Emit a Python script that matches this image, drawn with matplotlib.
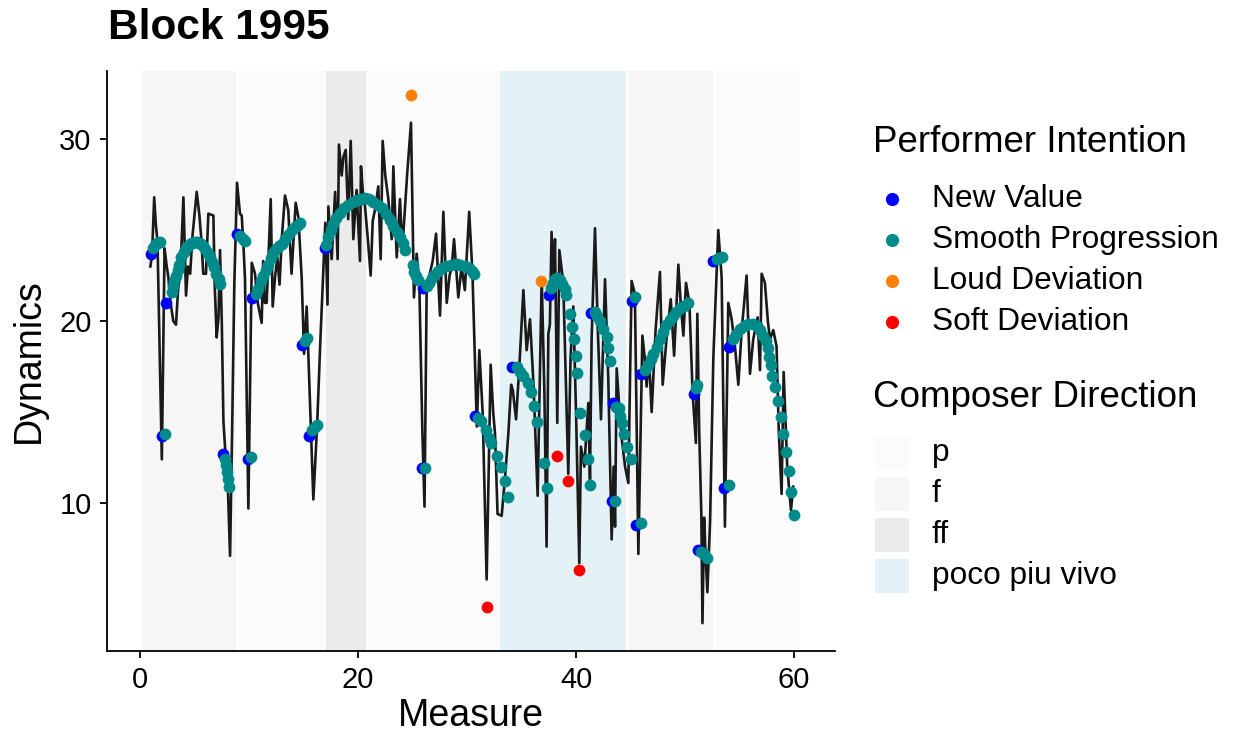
import matplotlib
matplotlib.use("Agg")
import matplotlib.pyplot as plt
from matplotlib.patches import Rectangle
from matplotlib.lines import Line2D

plt.rcParams['font.family'] = ['Liberation Sans', 'DejaVu Sans']

# composer direction sections (measures)
section_start = [0.2, 9.05, 17.1, 20.7, 33.0, 44.85, 52.85]
section_end = [8.85, 17.1, 20.7, 33.0, 44.6, 52.6, 60.55]
section_label = ['f', 'p', 'ff', 'p', 'poco piu vivo', 'f', 'p']
direction_names = ['p', 'f', 'ff', 'poco piu vivo']
direction_colors = ['#fbfbfb', '#f6f6f6', '#ebebeb', '#e4f2f7']

# measured dynamics (line)
line_x = [0.95, 1.1, 1.3, 1.45, 1.6, 2.0, 2.25, 2.45, 2.6, 2.8, 3.05, 3.3, 3.5, 3.7, 3.98,
          4.22, 4.4, 4.6, 4.8, 5.2, 5.45, 5.65, 5.8, 6.05, 6.27, 6.73, 6.85, 7.03, 7.2, 7.34,
          7.5, 7.65, 7.85, 8.05, 8.26, 8.45, 8.65, 8.9, 9.17, 9.33, 9.5, 9.63, 9.94, 10.25,
          10.55, 10.8, 11.16, 11.3, 11.45, 11.62, 11.99, 12.17, 12.4, 12.6, 12.8, 13.0, 13.3,
          13.6, 13.9, 14.28, 14.53, 14.83, 15.05, 15.29, 15.45, 15.7, 15.9, 16.1, 16.27, 16.55,
          16.82, 17.0, 17.2, 17.28, 17.58, 17.9, 18.13, 18.25, 18.5, 18.65, 18.87, 19.1, 19.33,
          19.57, 19.87, 20.18, 20.27, 20.45, 20.64, 20.9, 21.16, 21.35, 21.55, 21.86, 22.08,
          22.26, 22.5, 22.78, 23.09, 23.24, 23.55, 23.85, 24.06, 24.5, 24.86, 25.13, 25.38,
          25.62, 25.9, 26.1, 26.3, 26.55, 26.85, 27.16, 27.52, 27.83, 28.14, 28.4, 28.6, 28.81,
          29.2, 29.5, 29.8, 30.2, 30.5, 30.9, 31.13, 31.44, 31.8, 32.17, 32.4, 32.57, 32.8,
          33.18, 33.5, 33.79, 34.05, 34.2, 34.5, 34.8, 35.17, 35.47, 35.78, 36.1, 36.48, 36.85,
          37.1, 37.3, 37.46, 37.6, 37.76, 37.9, 38.07, 38.28, 38.47, 38.83, 39.05, 39.29, 39.5,
          39.75, 40.0, 40.3, 40.45, 40.76, 41.13, 41.28, 41.43, 41.74, 42.0, 42.29, 42.66, 42.96,
          43.27, 43.45, 43.58, 43.73, 44.0, 44.2, 44.5, 44.8, 45.1, 45.4, 45.72, 46.09, 46.3,
          46.48, 46.7, 46.94, 47.3, 47.7, 47.95, 48.3, 48.69, 49.0, 49.39, 49.6, 49.85, 50.09,
          50.4, 50.7, 51.0, 51.13, 51.3, 51.5, 51.6, 51.75, 51.9, 52.05, 52.3, 52.6, 53.05,
          53.36, 53.66, 53.97, 54.28, 54.6, 54.89, 55.2, 55.65, 55.96, 56.26, 56.66, 56.88,
          57.03, 57.33, 57.6, 57.79, 58.1, 58.4, 58.6, 58.86, 59.05, 59.38, 59.72, 59.93]
line_y = [23.0, 23.6, 26.8, 25.3, 24.4, 12.4, 24.0, 23.0, 22.4, 21.0, 20.0, 19.8, 21.8, 22.6, 26.8,
          21.4, 23.0, 22.6, 24.6, 27.1, 25.8, 24.3, 22.6, 22.6, 25.9, 25.8, 22.0, 19.1, 20.2, 23.9,
          20.0, 14.5, 12.6, 11.0, 7.1, 14.0, 22.0, 27.6, 25.9, 25.8, 24.0, 22.3, 9.7, 23.2,
          22.6, 21.0, 19.9, 23.3, 21.0, 21.0, 26.7, 20.8, 22.5, 23.5, 22.0, 24.5, 26.9,
          26.1, 22.6, 26.5, 25.7, 22.4, 18.2, 20.8, 18.0, 13.5, 10.2, 12.5, 14.6, 19.0,
          22.8, 25.4, 20.9, 26.3, 23.4, 27.1, 23.4, 29.7, 28.0, 29.0, 29.4, 25.6, 29.9,
          24.5, 27.2, 23.3, 28.5, 27.0, 26.3, 24.5, 22.5, 25.5, 26.1, 27.4, 23.4,
          29.9, 28.0, 26.7, 24.5, 28.5, 23.5, 26.7, 23.9, 28.0, 30.9, 21.3, 23.7,
          22.1, 14.0, 9.8, 21.9, 22.5, 23.3, 24.8, 20.3, 26.0, 21.0, 22.5, 23.0, 24.5,
          21.3, 23.0, 21.7, 26.0, 22.6, 14.2, 18.4, 14.9, 5.8, 17.6, 15.0, 13.8, 9.4,
          9.3, 11.5, 13.8, 16.5, 16.2, 14.6, 17.5, 21.7, 18.4, 20.1, 16.5, 10.4, 22.4,
          16.0, 7.6, 19.3, 19.8, 24.9, 21.5, 24.5, 14.4, 23.9, 22.1, 17.0, 11.6, 18.0,
          20.8, 15.0, 6.7, 13.1, 12.0, 15.5, 11.3, 19.0, 25.1, 19.5, 14.6, 22.3, 16.8,
          8.0, 12.0, 8.7, 17.4, 15.0, 13.5, 12.0, 11.1, 22.2, 21.5, 7.2, 19.2, 18.0,
          16.4, 18.0, 15.0, 19.5, 22.7, 16.5, 19.0, 21.2, 18.1, 23.1, 21.0, 19.2, 22.1,
          21.0, 16.0, 13.3, 20.4, 14.0, 9.3, 3.4, 9.2, 7.0, 5.1, 9.0, 18.0, 25.0,
          22.4, 8.7, 21.0, 20.1, 18.5, 16.5, 19.5, 22.5, 17.1, 19.0, 20.2, 17.3,
          22.6, 22.1, 20.0, 19.0, 19.5, 18.6, 14.0, 10.5, 17.2, 12.0, 9.6, 10.9]

# performer intention points
new_x = [1.0, 2.0, 2.35, 7.6, 8.87, 9.94, 10.25, 14.83, 15.53, 16.95, 25.84, 26.0, 30.73,
         34.1, 37.5, 41.4, 43.3, 43.4, 45.1, 45.5, 46.0, 50.8, 51.2, 52.6, 53.6, 54.0]
new_y = [23.7, 13.7, 21.0, 12.7, 24.8, 12.4, 21.25, 18.7, 13.7, 24.0, 11.9, 21.8, 14.8,
         17.45, 21.45, 20.45, 10.1, 15.5, 21.1, 8.8, 17.1, 16.0, 7.4, 23.3, 10.85, 18.6]

smooth_x = [1.2, 1.4, 1.6, 1.8, 2.25,
            2.95, 3.05, 3.15, 3.3, 3.45, 3.6, 3.8, 4.0, 4.2, 4.4, 4.6, 4.8, 5.0, 5.2, 5.4,
            5.6, 5.8, 6.0, 6.2, 6.4, 6.6, 6.8, 7.0, 7.2, 7.35,
            7.75, 7.9, 8.0, 8.1, 8.2,
            9.2, 9.45, 9.6, 10.2,
            10.6, 10.86, 11.1, 11.32, 11.55, 11.78, 12.0, 12.24, 12.5, 12.75, 13.0, 13.3,
            13.6, 13.9, 14.2, 14.45, 14.68,
            15.1, 15.3, 15.8, 16.05, 16.25,
            17.1, 17.28, 17.5, 17.74, 18.0, 18.35, 18.7, 19.1, 19.5, 19.9, 20.3, 20.65, 21.0,
            21.4, 21.8, 22.2, 22.55, 22.9, 23.2, 23.55, 23.85, 24.15, 24.3,
            25.0, 25.1, 25.3, 25.5, 26.1,
            26.3, 26.5, 26.76, 27.0, 27.37, 27.7, 28.1, 28.5, 29.05, 29.4, 29.8, 30.2, 30.45, 30.6,
            31.0, 31.3, 31.7, 32.0, 32.2, 32.75, 33.1, 33.45, 33.8,
            34.55, 34.9, 35.16, 35.6, 35.85, 36.15, 36.45,
            37.7, 37.9, 38.1, 38.3, 38.55, 38.75, 38.95, 39.1,
            39.45, 39.6, 39.8, 39.97, 40.13, 37.1, 37.3,
            40.4, 40.8, 41.1, 41.3,
            41.7, 41.95, 42.2, 42.5, 42.8, 42.97, 43.1,
            43.7, 43.9, 44.0, 44.2, 44.4, 44.7, 45.0, 43.6,
            45.4, 45.96,
            46.3, 46.6, 46.85, 47.1, 47.4, 47.7, 48.0, 48.3, 48.6, 48.9, 49.2, 49.55, 49.9, 50.3,
            51.0, 51.1, 52.9, 53.1, 53.4, 51.5, 51.7, 52.05, 54.0,
            54.4, 54.7, 55.0, 55.4, 55.8, 56.2, 56.6, 56.9, 57.2, 57.4, 57.6, 57.75, 57.9, 58.0,
            58.3, 58.55, 58.8, 58.95, 59.25, 59.55, 59.75, 60.0]
smooth_y = [24.0, 24.2, 24.3, 24.35, 13.8,
            21.6, 21.9, 22.2, 22.5, 22.8, 23.1, 23.5, 23.8, 24.0, 24.15, 24.25, 24.3, 24.35,
            24.35, 24.3, 24.25, 24.1, 23.95, 23.75, 23.5, 23.25, 22.95, 22.6, 22.3, 22.05,
            12.4, 12.1, 11.7, 11.3, 10.9,
            24.7, 24.5, 24.4, 12.55,
            21.5, 21.75, 22.2, 22.5, 22.8, 23.1, 23.45, 23.75, 23.95, 24.1, 24.25, 24.5,
            24.75, 25.0, 25.15, 25.3, 25.4,
            18.9, 19.05, 14.0, 14.2, 14.3,
            24.2, 24.6, 25.0, 25.35, 25.65, 25.95, 26.2, 26.4, 26.55, 26.65, 26.72, 26.74, 26.68,
            26.55, 26.4, 26.2, 25.9, 25.55, 25.25, 24.9, 24.6, 24.27, 23.9,
            23.1, 22.7, 22.45, 22.25, 11.9,
            21.95, 22.1, 22.35, 22.55, 22.75, 22.9, 23.0, 23.1, 23.15, 23.1, 23.05, 22.9, 22.75, 22.6,
            14.65, 14.5, 14.0, 13.6, 13.3, 12.6, 12.0, 11.2, 10.35,
            17.45, 17.2, 17.0, 16.6, 16.1, 15.35, 14.45,
            21.8, 22.1, 22.3, 22.35, 22.25, 22.05, 21.75, 21.45,
            20.4, 19.7, 19.0, 18.1, 17.15, 12.2, 10.8,
            14.95, 13.75, 12.4, 11.0,
            20.5, 20.3, 20.0, 19.55, 19.1, 18.5, 17.8,
            15.3, 15.2, 14.8, 14.4, 13.8, 13.1, 12.4, 10.1,
            21.3, 8.9,
            17.3, 17.6, 17.9, 18.2, 18.6, 19.0, 19.4, 19.8, 20.05, 20.3, 20.5, 20.7, 20.85, 21.0,
            16.3, 16.5, 23.4, 23.45, 23.5, 7.3, 7.2, 7.0, 11.0,
            19.0, 19.3, 19.55, 19.75, 19.85, 19.85, 19.75, 19.5, 19.2, 18.9, 18.5, 18.05, 17.6, 17.0,
            16.35, 15.6, 14.75, 13.8, 12.8, 11.75, 10.6, 9.35]

loud_x = [24.86, 36.76]
loud_y = [32.4, 22.2]
soft_x = [31.8, 38.3, 39.3, 40.3]
soft_y = [4.3, 12.6, 11.2, 6.3]

intention_names = ['New Value', 'Smooth Progression', 'Loud Deviation', 'Soft Deviation']
intention_colors = ['#0000ff', '#008b8b', '#ff8000', '#ff0000']

W, H = 1235, 740
fig = plt.figure(figsize=(W / 100, H / 100), dpi=100)
ax = fig.add_axes([107 / W, 1 - 651 / H, (835 - 107) / W, (651 - 71) / H])

col_of = dict(zip(direction_names, direction_colors))
for s, e, lab in zip(section_start, section_end, section_label):
    ax.axvspan(s, e, color=col_of[lab], lw=0, zorder=0)

ax.plot(line_x, line_y, color='#1a1a1a', lw=1.9, zorder=2)

groups = [(new_x, new_y), (smooth_x, smooth_y), (loud_x, loud_y), (soft_x, soft_y)]
for (gx, gy), c in zip(groups, intention_colors):
    ax.scatter(gx, gy, s=72, color=c, lw=0, zorder=3)

ax.set_xlim(-3.03, 63.76)
ax.set_ylim(1.87, 33.74)
ax.set_xticks([0, 20, 40, 60])
ax.set_yticks([10, 20, 30])
for side in ['top', 'right']:
    ax.spines[side].set_visible(False)
for side in ['left', 'bottom']:
    ax.spines[side].set_linewidth(1.3)
ax.tick_params(labelsize=21, length=5, width=1.3, colors='black', pad=6)
ax.set_xlabel('Measure', fontsize=27, labelpad=3)
ax.set_ylabel('Dynamics', fontsize=27, labelpad=9)

fig.text(108 / W, 1 - 28 / H, 'Block 1995', fontsize=30.5, fontweight='bold', va='center')

# legend: Performer Intention
fig.text(873 / W, 1 - 143 / H, 'Performer Intention', fontsize=26.5, va='center')
for i, (name, c) in enumerate(zip(intention_names, intention_colors)):
    yy = 1 - (199 + 41 * i) / H
    fig.add_artist(Line2D([892 / W], [yy], marker='o', ms=8.5, color=c, lw=0,
                          transform=fig.transFigure))
    fig.text(932 / W, yy, name, fontsize=22.8, va='center')

# legend: Composer Direction
fig.text(873 / W, 1 - 398 / H, 'Composer Direction', fontsize=26.5, va='center')
for i, (name, c) in enumerate(zip(direction_names, direction_colors)):
    yc = 453 + 41 * i
    fig.add_artist(Rectangle((875 / W, 1 - (yc + 17) / H), 34 / W, 34 / H,
                             facecolor=c, lw=0, transform=fig.transFigure))
    fig.text(932 / W, 1 - yc / H, name, fontsize=22.8, va='center')

fig.savefig('out.png', dpi=100)
